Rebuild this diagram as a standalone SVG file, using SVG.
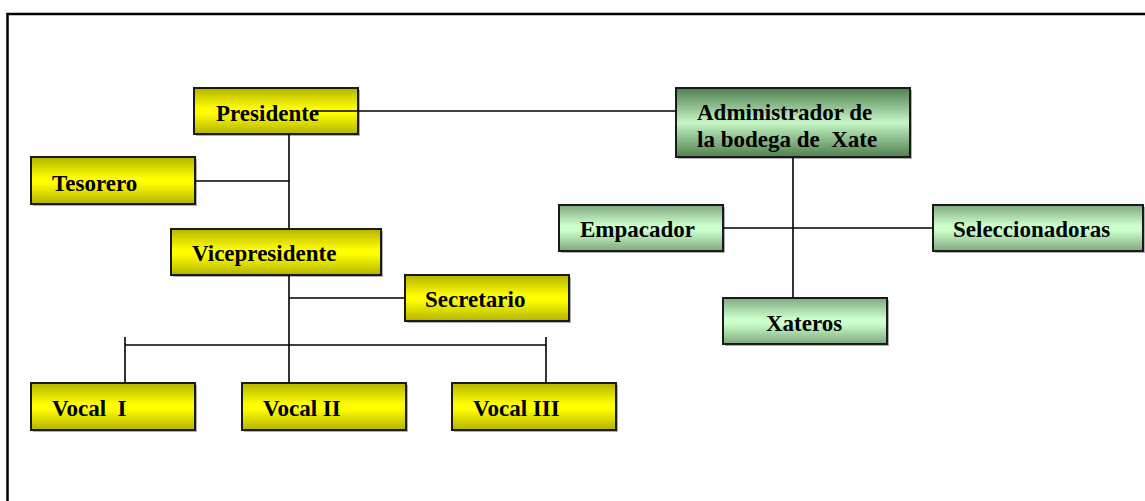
<svg xmlns="http://www.w3.org/2000/svg" width="1145" height="501" viewBox="0 0 1145 501">
<defs>
<linearGradient id="gy" x1="0" y1="0" x2="0" y2="1">
<stop offset="0" stop-color="#b3b300"/>
<stop offset="0.45" stop-color="#ffff00"/>
<stop offset="0.55" stop-color="#ffff00"/>
<stop offset="1" stop-color="#b3b300"/>
</linearGradient>
<linearGradient id="gg" x1="0" y1="0" x2="0" y2="1">
<stop offset="0" stop-color="#7fa87f"/>
<stop offset="0.45" stop-color="#ccffcc"/>
<stop offset="0.55" stop-color="#ccffcc"/>
<stop offset="1" stop-color="#7fa87f"/>
</linearGradient>
<linearGradient id="gd" x1="0" y1="0" x2="0" y2="1">
<stop offset="0" stop-color="#4f7f4f"/>
<stop offset="0.5" stop-color="#c6f5c6"/>
<stop offset="1" stop-color="#4f7f4f"/>
</linearGradient>
</defs>
<style>
.y{fill:url(#gy);stroke:#1a1a1a;stroke-width:2}
.g{fill:url(#gg);stroke:#1a1a1a;stroke-width:2}
.d{fill:url(#gd);stroke:#1a1a1a;stroke-width:2}
.sh{fill:#b0b0b0}
.t{font-family:'Liberation Serif','Times New Roman',serif;font-weight:bold;font-size:23px;fill:#000}
.c{stroke:#000;stroke-width:1.6;fill:none}
.f{stroke:#000;stroke-width:2.5;fill:none}
</style>
<rect width="1145" height="501" fill="#fff"/>
<path class="f" d="M7.5,501 V14 H1145"/>
<g id="presidente"><rect class="sh" x="196" y="90" width="164" height="46"/><rect class="y" x="194" y="88" width="164" height="46"/><text class="t" x="216" y="121">Presidente</text></g>
<g id="tesorero"><rect class="sh" x="33" y="159" width="164" height="47"/><rect class="y" x="31" y="157" width="164" height="47"/><text class="t" x="52" y="191">Tesorero</text></g>
<g id="vicepresidente"><rect class="sh" x="173" y="231" width="210" height="46"/><rect class="y" x="171" y="229" width="210" height="46"/><text class="t" x="192" y="261">Vicepresidente</text></g>
<g id="secretario"><rect class="sh" x="407" y="277" width="164" height="46"/><rect class="y" x="405" y="275" width="164" height="46"/><text class="t" x="425" y="307">Secretario</text></g>
<g id="vocal1"><rect class="sh" x="33" y="385" width="164" height="47"/><rect class="y" x="31" y="383" width="164" height="47"/><text class="t" x="52" y="416" xml:space="preserve">Vocal  I</text></g>
<g id="vocal2"><rect class="sh" x="244" y="385" width="164" height="47"/><rect class="y" x="242" y="383" width="164" height="47"/><text class="t" x="263" y="416">Vocal II</text></g>
<g id="vocal3"><rect class="sh" x="454" y="385" width="164" height="47"/><rect class="y" x="452" y="383" width="164" height="47"/><text class="t" x="473" y="416">Vocal III</text></g>
<g id="administrador"><rect class="sh" x="678" y="90" width="234" height="69"/><rect class="d" x="676" y="88" width="234" height="69"/><text class="t" x="697" y="120">Administrador de</text><text class="t" x="697" y="147" xml:space="preserve">la bodega de  Xate</text></g>
<g id="empacador"><rect class="sh" x="561" y="207" width="164" height="46"/><rect class="g" x="559" y="205" width="164" height="46"/><text class="t" x="580" y="237">Empacador</text></g>
<g id="seleccionadoras"><rect class="sh" x="935" y="207" width="210" height="46"/><rect class="g" x="933" y="205" width="210" height="46"/><text class="t" x="953" y="237">Seleccionadoras</text></g>
<g id="xateros"><rect class="sh" x="725" y="300" width="164" height="46"/><rect class="g" x="723" y="298" width="164" height="46"/><text class="t" x="766" y="331">Xateros</text></g>
<g id="connectors">
<path class="c" d="M313,111 H676"/>
<path class="c" d="M289,134 V229"/>
<path class="c" d="M195,181 H289"/>
<path class="c" d="M289,275 V383"/>
<path class="c" d="M289,298 H405"/>
<path class="c" d="M125,345 H546"/>
<path class="c" d="M125,337 V383"/>
<path class="c" d="M546,337 V383"/>
<path class="c" d="M793,157 V298"/>
<path class="c" d="M723,228 H933"/>
</g>
</svg>
